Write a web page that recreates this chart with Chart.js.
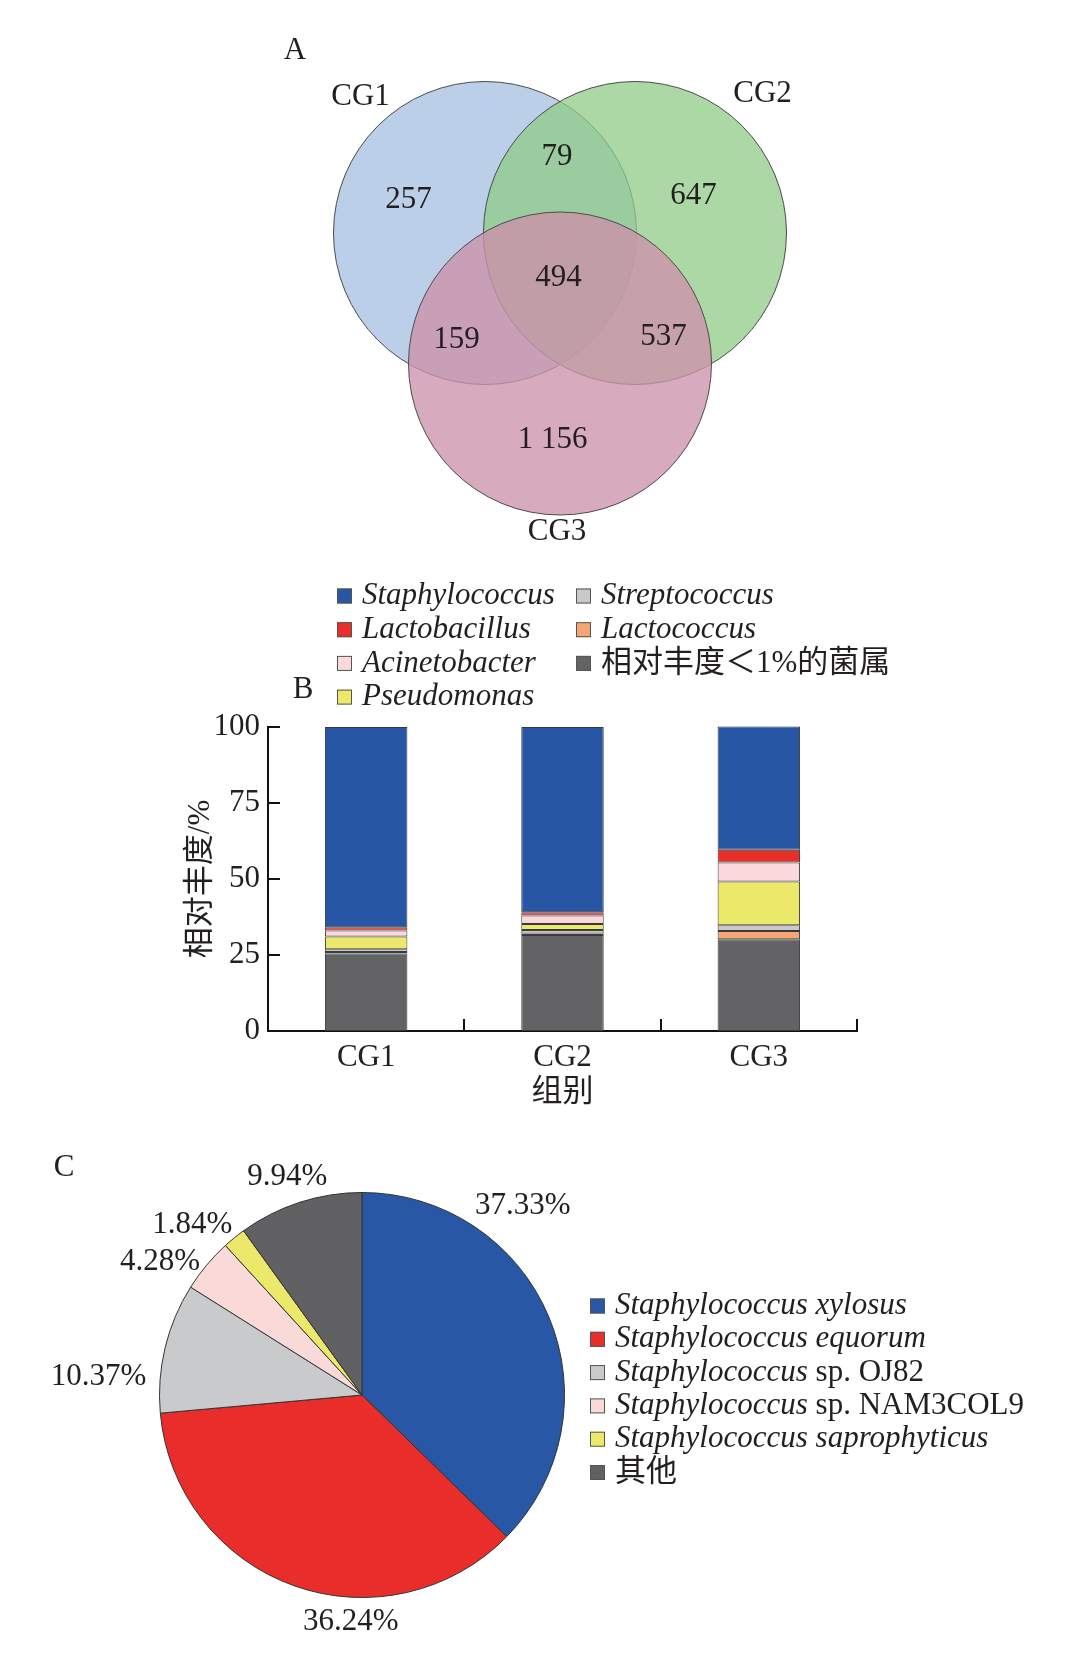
<!DOCTYPE html>
<html>
<head>
<meta charset="utf-8">
<script src="https://cdn.jsdelivr.net/npm/chart.js@4.4.0/dist/chart.umd.min.js"></script>
<style>
    body { margin: 0; background: #fff; }
    #page { position: relative; width: 1090px; height: 1669px; }
    canvas { position: absolute; left: 0; }
</style>
</head>
<body>
<div id="page">
    <canvas id="venn_chart" width="1090" height="560" style="top:0"></canvas>
    <canvas id="bar_chart" width="1090" height="560" style="top:560px"></canvas>
    <canvas id="pie_chart" width="1090" height="529" style="top:1140px"></canvas>
</div>
<script>
// ---- A: venn of OTUs per group ----
const venn_groups = ['CG1', 'CG2', 'CG3'];
const venn_center_x = [0, 1, 0.5];
const venn_center_y = [0, 0, -0.87];
const venn_radius = 1.01;
const venn_counts = ['257', '79', '647', '494', '159', '537', '1 156'];
const venn_count_x = [-0.51, 0.48, 1.39, 0.49, -0.19, 1.19, 0.45];
const venn_count_y = [0.22, 0.51, 0.25, -0.30, -0.71, -0.69, -1.38];
const venn_label_x = [-0.83, 1.85, 0.48];
const venn_label_y = [0.91, 0.93, -1.99];

// ---- B: genus relative abundance ----
const bar_groups = ['CG1', 'CG2', 'CG3'];
const genus_names = ['相对丰度＜1%的菌属', 'Lactococcus', 'Streptococcus', 'Pseudomonas', 'Acinetobacter', 'Lactobacillus', 'Staphylococcus'];
const other_genus = [25.5, 31.6, 30.2];
const lactococcus = [0.5, 0.5, 2.7];
const streptococcus = [0.9, 1.1, 1.9];
const pseudomonas = [4.2, 2.0, 14.4];
const acinetobacter = [2.0, 2.8, 6.2];
const lactobacillus = [1.0, 1.1, 4.2];
const staphylococcus = [65.9, 60.9, 40.6];
const y_ticks = [0, 25, 50, 75, 100];

// ---- C: species share ----
const species_names = ['Staphylococcus xylosus', 'Staphylococcus equorum', 'Staphylococcus sp. OJ82',
    'Staphylococcus sp. NAM3COL9', 'Staphylococcus saprophyticus', '其他'];
const species_share = [37.33, 36.24, 10.37, 4.28, 1.84, 9.94];

// label placement around the pie (degrees clockwise from top, px from centre)
const share_label_angle = [40.4, 182.8, 273.9, 303.4, 315, 341.1];
const share_label_dist = [248, 227, 264, 242, 240, 231];

const SERIF = '"Liberation Serif", "Noto Sans CJK SC", serif';
const TEXT = '#231f20';
const FS = 31;
const genus_colors = ['#636264', '#f5a673', '#c9c9cb', '#ebe86a', '#f9d9d9', '#e8302b', '#2756a5'];
const species_colors = ['#2857a6', '#e92d2b', '#c9cacc', '#fad9d9', '#ebe86b', '#616062'];

Chart.defaults.font.family = SERIF;
Chart.defaults.font.size = FS;
Chart.defaults.color = TEXT;
Chart.defaults.animation = false;
Chart.defaults.events = [];
Chart.defaults.plugins.legend.display = false;
Chart.defaults.plugins.tooltip.enabled = false;

function draw_name(ctx, name, x, y) {
    // genus / species names italic, strain code and chinese upright
    let parts;
    if (name.includes(' sp. ')) {
        const bits = name.split(' sp. ');
        parts = [[bits[0], true], [' sp. ' + bits[1], false]];
    } else {
        parts = [[name, /^[A-Za-z ]+$/.test(name)]];
    }
    for (const [t, italic] of parts) {
        ctx.font = (italic ? 'italic ' : '') + FS + 'px ' + SERIF;
        ctx.fillText(t, x, y);
        x += ctx.measureText(t).width;
    }
}

function draw_key(ctx, color, x, y) {
    ctx.fillStyle = color;
    ctx.fillRect(x, y - 7.5, 15, 15);
    ctx.strokeStyle = '#555';
    ctx.lineWidth = 1;
    ctx.strokeRect(x + 0.5, y - 7, 14, 14);
}

function panel_letter(ctx, letter, x, y) {
    ctx.save();
    ctx.font = FS + 'px ' + SERIF;
    ctx.fillStyle = TEXT;
    ctx.textAlign = 'center';
    ctx.textBaseline = 'middle';
    ctx.fillText(letter, x, y);
    ctx.restore();
}

// ---------- venn ----------
const VENN_X = [-3.2333, 4.0333];
const VENN_Y = [-2.18, 1.5533];
const venn_canvas = document.getElementById('venn_chart');
// bubble radius is in px, so convert the data radius through the x range
const venn_unit_px = venn_canvas.width / (VENN_X[1] - VENN_X[0]);

const venn_text = {
    id: 'venn_text',
    afterDatasetsDraw(chart) {
        const {ctx, scales: {x, y}} = chart;
        ctx.save();
        ctx.font = FS + 'px ' + SERIF;
        ctx.fillStyle = TEXT;
        ctx.textAlign = 'center';
        ctx.textBaseline = 'middle';
        venn_counts.forEach((c, i) => {
            ctx.fillText(c, x.getPixelForValue(venn_count_x[i]), y.getPixelForValue(venn_count_y[i]));
        });
        venn_groups.forEach((g, i) => {
            ctx.fillText(g, x.getPixelForValue(venn_label_x[i]), y.getPixelForValue(venn_label_y[i]));
        });
        ctx.restore();
        panel_letter(ctx, 'A', 295, 51);
    }
};

new Chart(venn_canvas, {
    type: 'bubble',
    data: {
        datasets: [{
            data: venn_center_x.map((cx, i) => ({x: cx, y: venn_center_y[i], r: venn_radius * venn_unit_px})),
            backgroundColor: ['rgba(165,191,225,0.75)', 'rgba(144,203,135,0.75)', 'rgba(205,146,170,0.78)'],
            borderColor: '#4a4a4a',
            borderWidth: 1,
            clip: false,
        }]
    },
    options: {
        responsive: false,
        layout: {padding: 0, autoPadding: false},
        scales: {
            x: {type: 'linear', display: false, min: VENN_X[0], max: VENN_X[1]},
            y: {type: 'linear', display: false, min: VENN_Y[0], max: VENN_Y[1]},
        }
    },
    plugins: [venn_text]
});

// ---------- stacked bars ----------
const bar_extras = {
    id: 'bar_extras',
    afterDraw(chart) {
        const {ctx, chartArea: a, scales: {y}} = chart;
        ctx.save();
        ctx.strokeStyle = '#111';
        ctx.lineWidth = 2;
        // inward ticks
        y.ticks.forEach(t => {
            const py = Math.round(y.getPixelForValue(t.value));
            ctx.beginPath();
            ctx.moveTo(a.left, py);
            ctx.lineTo(a.left + 12, py);
            ctx.stroke();
        });
        const n = bar_groups.length;
        for (let i = 1; i <= n; i++) {
            const px = Math.round(a.left + i * (a.right - a.left) / n);
            ctx.beginPath();
            ctx.moveTo(px, a.bottom);
            ctx.lineTo(px, a.bottom - 12);
            ctx.stroke();
        }
        // legend, column-major, top of stack first
        ctx.textAlign = 'left';
        ctx.textBaseline = 'middle';
        const items = chart.data.datasets.slice().reverse();
        items.forEach((ds, i) => {
            const col = Math.floor(i / 4), row = i % 4;
            const kx = [337, 576][col];
            const ky = 36 + row * 33.7;
            draw_key(ctx, ds.backgroundColor, kx, ky);
            ctx.fillStyle = TEXT;
            draw_name(ctx, ds.label, kx + 25, ky);
        });
        ctx.restore();
        panel_letter(ctx, 'B', 303, 130);
    }
};

const genus_values = [other_genus, lactococcus, streptococcus, pseudomonas, acinetobacter, lactobacillus, staphylococcus];

new Chart(document.getElementById('bar_chart'), {
    type: 'bar',
    data: {
        labels: bar_groups,
        datasets: genus_names.map((name, i) => ({
            label: name,
            data: genus_values[i],
            backgroundColor: genus_colors[i],
            borderColor: '#3a3a3a',
            borderWidth: 1,
            borderSkipped: false,
            categoryPercentage: 1,
            barPercentage: 0.42,
            clip: false,
        }))
    },
    options: {
        responsive: false,
        layout: {padding: {left: 0, top: 167, right: 233, bottom: 0}},
        scales: {
            x: {
                stacked: true,
                grid: {display: false, drawTicks: false},
                border: {display: true, color: '#111', width: 2},
                ticks: {padding: 8, font: {size: FS}},
                title: {display: true, text: '组别', font: {size: FS}, padding: {top: 0, bottom: 9}},
                afterFit: s => { s.height = 89; },
            },
            y: {
                stacked: true,
                min: 0,
                max: 100,
                afterBuildTicks: s => { s.ticks = y_ticks.map(v => ({value: v})); },
                grid: {display: false, drawTicks: false},
                border: {display: true, color: '#111', width: 2},
                ticks: {padding: 8, font: {size: FS}},
                title: {display: true, text: '相对丰度/%', font: {size: FS}, padding: {top: 182, bottom: 0}},
                afterFit: s => { s.width = 268; },
            }
        }
    },
    plugins: [bar_extras]
});

// ---------- pie ----------
const pie_extras = {
    id: 'pie_extras',
    afterDraw(chart) {
        const {ctx} = chart;
        const arc = chart.getDatasetMeta(0).data[0];
        ctx.save();
        ctx.font = FS + 'px ' + SERIF;
        ctx.fillStyle = TEXT;
        ctx.textAlign = 'center';
        ctx.textBaseline = 'middle';
        species_share.forEach((v, i) => {
            const th = share_label_angle[i] * Math.PI / 180;
            const d = share_label_dist[i];
            ctx.fillText(v.toFixed(2) + '%', arc.x + d * Math.sin(th), arc.y - d * Math.cos(th));
        });
        ctx.textAlign = 'left';
        species_names.forEach((name, i) => {
            const ky = 166 + i * 33.3;
            draw_key(ctx, species_colors[i], 590, ky);
            ctx.fillStyle = TEXT;
            draw_name(ctx, name, 615, ky);
        });
        ctx.restore();
        panel_letter(ctx, 'C', 64, 28);
    }
};

new Chart(document.getElementById('pie_chart'), {
    type: 'pie',
    data: {
        labels: species_names,
        datasets: [{
            data: species_share,
            backgroundColor: species_colors,
            borderColor: '#333',
            borderWidth: 1,
        }]
    },
    options: {
        responsive: false,
        layout: {padding: {left: 159, top: 52, right: 525, bottom: 71}},
    },
    plugins: [pie_extras]
});
</script>
</body>
</html>
